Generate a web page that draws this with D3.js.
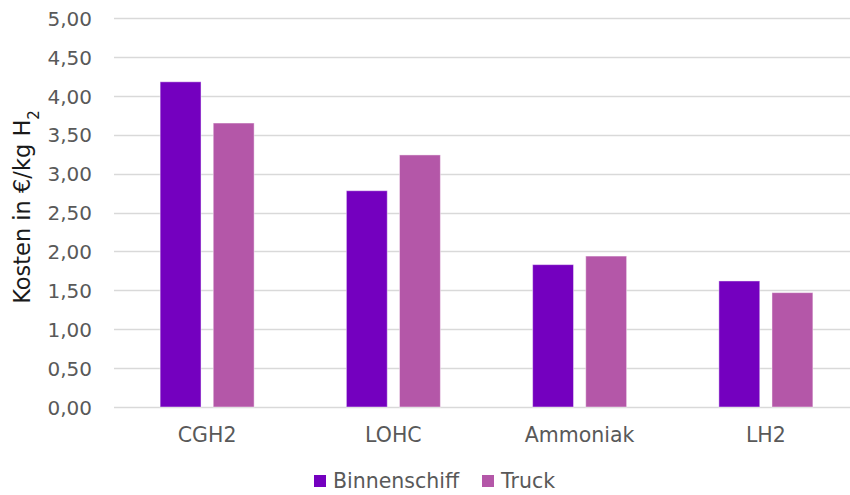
<!DOCTYPE html>
<html>
<head>
<meta charset="utf-8">
<script src="https://cdn.jsdelivr.net/npm/d3@7"></script>
<style>
  html, body { margin: 0; padding: 0; background: #fff; }
  svg { display: block; font-family: "DejaVu Sans", sans-serif; }
</style>
</head>
<body>
<svg id="chart" width="850" height="495"></svg>
<script>
// Transport cost per kg of hydrogen, by carrier and transport mode
const categories = ["CGH2", "LOHC", "Ammoniak", "LH2"];
const seriesNames = ["Binnenschiff", "Truck"];
const binnenschiff = [4.18, 2.78, 1.83, 1.62];
const truck = [3.65, 3.24, 1.94, 1.47];
const yTicks = [0, 0.5, 1, 1.5, 2, 2.5, 3, 3.5, 4, 4.5, 5];
const colors = ["#7400bf", "#b457a8"];

const svg = d3.select("#chart");
const margin = { left: 114, right: -9, top: 18, bottom: 88 };
const W = 850, H = 495;
const textColor = "#595959";

const x = d3.scaleBand()
  .domain(categories)
  .range([margin.left, W - margin.right])
  .paddingInner(0).paddingOuter(0);

const y = d3.scaleLinear()
  .domain([0, 5])
  .range([H - margin.bottom, margin.top]);

const groupW = 94;
const xs = d3.scaleBand()
  .domain(seriesNames)
  .range([0, groupW])
  .paddingInner(0.23);

const fmt = v => d3.format(".2f")(v).replace(".", ",");

// Horizontal gridlines
svg.append("g")
  .selectAll("line")
  .data(yTicks)
  .join("line")
  .attr("x1", margin.left)
  .attr("x2", W)
  .attr("y1", d => Math.round(y(d)) + 0.5)
  .attr("y2", d => Math.round(y(d)) + 0.5)
  .attr("stroke", "#d9d9d9")
  .attr("stroke-width", 1.4);

// Y axis labels
const yAxis = d3.axisLeft(y).tickValues(yTicks).tickFormat(fmt).tickSize(0).tickPadding(0);
const yG = svg.append("g")
  .attr("transform", `translate(92,0)`)
  .call(yAxis);
yG.select(".domain").remove();
yG.selectAll("text")
  .attr("fill", textColor)
  .attr("dy", "0.36em")
  .style("font-size", "20px")
  .style("font-family", "'DejaVu Sans', sans-serif");

// Bars
const rows = categories.map((c, i) => ({ cat: c, values: [binnenschiff[i], truck[i]] }));
const groups = svg.append("g")
  .selectAll("g")
  .data(rows)
  .join("g")
  .attr("transform", d => `translate(${x(d.cat) + x.bandwidth() / 2 - groupW / 2},0)`);

groups.selectAll("rect")
  .data(d => d.values.map((v, k) => ({ name: seriesNames[k], v, k })))
  .join("rect")
  .attr("x", d => xs(d.name))
  .attr("width", xs.bandwidth())
  .attr("y", d => y(d.v))
  .attr("height", d => y(0) - y(d.v))
  .attr("fill", d => colors[d.k])
  .attr("stroke", "#ffffff")
  .attr("stroke-opacity", 0.45)
  .attr("stroke-width", 1);

// Category labels
const xAxis = d3.axisBottom(x).tickSize(0).tickPadding(0);
const xG = svg.append("g")
  .attr("transform", `translate(0,442)`)
  .call(xAxis);
xG.select(".domain").remove();
xG.selectAll("text")
  .attr("fill", textColor)
  .attr("y", 0)
  .attr("dy", 0)
  .style("font-size", "20.5px")
  .style("font-family", "'DejaVu Sans', sans-serif");

// Y axis title
svg.append("text")
  .attr("transform", "translate(30,207) rotate(-90)")
  .attr("text-anchor", "middle")
  .attr("fill", "#1a1a1a")
  .style("font-size", "22.5px")
  .call(t => {
    t.append("tspan").text("Kosten in €/kg H");
    t.append("tspan").attr("baseline-shift", "sub").style("font-size", "15px").text("2");
  });

// Legend
const legendItems = [
  { name: seriesNames[0], color: colors[0], x: 314 },
  { name: seriesNames[1], color: colors[1], x: 482 }
];
const lg = svg.append("g").selectAll("g").data(legendItems).join("g")
  .attr("transform", d => `translate(${d.x},0)`);
lg.append("rect")
  .attr("x", 0).attr("y", 475)
  .attr("width", 12).attr("height", 12)
  .attr("fill", d => d.color);
lg.append("text")
  .attr("x", 19).attr("y", 488)
  .attr("fill", textColor)
  .style("font-size", "20.5px")
  .text(d => d.name);
</script>
</body>
</html>
